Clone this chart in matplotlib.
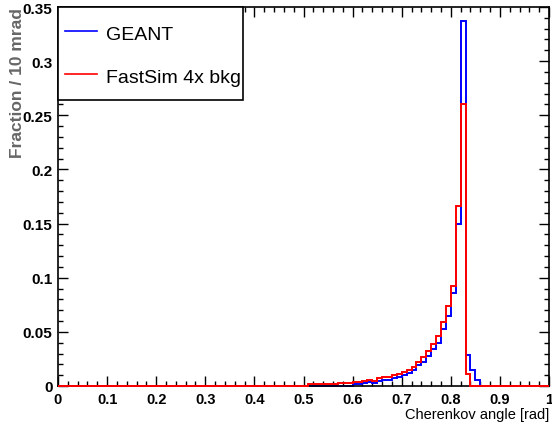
import numpy as np
import matplotlib
matplotlib.use("Agg")
import matplotlib.pyplot as plt
from matplotlib.lines import Line2D
from matplotlib.patches import Rectangle
from matplotlib.ticker import MultipleLocator, FixedLocator, FixedFormatter

# Histogram binning: 10 mrad bins; only the populated range is listed
bin_low = 0.50
bin_width = 0.01

geant = [0.000, 0.000, 0.000, 0.000, 0.000, 0.000, 0.000, 0.000, 0.000, 0.000,
         0.002, 0.002, 0.003, 0.004, 0.003, 0.005, 0.006, 0.006, 0.007, 0.008,
         0.010, 0.012, 0.015, 0.019, 0.022, 0.028, 0.034, 0.040, 0.053, 0.065,
         0.086, 0.150, 0.337, 0.029, 0.015, 0.006, 0.000]

fastsim = [0.000, 0.002, 0.002, 0.002, 0.002, 0.002, 0.002, 0.0025, 0.003, 0.003,
           0.004, 0.004, 0.005, 0.006, 0.005, 0.007, 0.008, 0.008, 0.010, 0.011,
           0.013, 0.015, 0.018, 0.022, 0.027, 0.032, 0.039, 0.046, 0.059, 0.074,
           0.092, 0.166, 0.260, 0.011, 0.000, 0.000, 0.000]

series_labels = ["GEANT", "FastSim 4x bkg"]
series_colors = ["#0000ff", "#ff0000"]

x_ticks = [0.0, 0.1, 0.2, 0.3, 0.4, 0.5, 0.6, 0.7, 0.8, 0.9, 1.0]
x_tick_labels = ["0", "0.1", "0.2", "0.3", "0.4", "0.5", "0.6", "0.7", "0.8", "0.9", "1"]
y_ticks = [0.0, 0.05, 0.10, 0.15, 0.20, 0.25, 0.30, 0.35]
y_tick_labels = ["0", "0.05", "0.1", "0.15", "0.2", "0.25", "0.3", "0.35"]

plt.rcParams["font.family"] = ["Liberation Sans", "DejaVu Sans"]

fig = plt.figure(figsize=(5.52, 4.27), dpi=100)
ax = fig.add_axes([58 / 552, 40 / 427, 491 / 552, 379 / 427])

n = len(geant)
inner_edges = bin_low + bin_width * np.arange(n + 1)
edges = np.concatenate([[0.0], inner_edges, [1.0]])

for vals, col, z in zip([geant, fastsim], series_colors, [2, 3]):
    v = np.concatenate([[0.0], vals, [0.0]])
    ax.stairs(v, edges, color=col, linewidth=1.4, zorder=z,
              baseline=None, clip_on=False)

ax.set_xlim(0, 1)
ax.set_ylim(0, 0.35)

ax.xaxis.set_major_locator(FixedLocator(x_ticks))
ax.xaxis.set_major_formatter(FixedFormatter(x_tick_labels))
ax.xaxis.set_minor_locator(MultipleLocator(0.02))
ax.yaxis.set_major_locator(FixedLocator(y_ticks))
ax.yaxis.set_major_formatter(FixedFormatter(y_tick_labels))
ax.yaxis.set_minor_locator(MultipleLocator(0.01))

ax.tick_params(which="both", direction="in", top=True, right=True, width=1.0,
               color="black")
ax.tick_params(which="major", length=7, pad=4)
ax.tick_params(which="minor", length=3.5)
for lbl in ax.get_xticklabels():
    lbl.set_fontweight("bold")
    lbl.set_fontsize(10.5)
for lbl in ax.get_yticklabels():
    lbl.set_fontweight("bold")
    lbl.set_fontsize(11)

for sp in ax.spines.values():
    sp.set_linewidth(1.2)

ax.set_xlabel("Cherenkov angle [rad]", fontsize=10.5, loc="right")
ax.xaxis.set_label_coords(1.0, -0.056)
ax.set_ylabel("Fraction / 10 mrad", fontsize=12.5, fontweight="bold",
              color="#666666", loc="top")
ax.yaxis.set_label_coords(-0.068, 1.0)

# Legend box in the upper-left corner
ax.add_patch(Rectangle((0, 0.7546), 0.377, 0.2454, transform=ax.transAxes,
                       facecolor="white", edgecolor="black", linewidth=1.2,
                       zorder=5, clip_on=False))
line_y = [0.9367, 0.8232]
text_y = [0.9156, 0.8020]
for lab, col, ly, ty in zip(series_labels, series_colors, line_y, text_y):
    ax.add_line(Line2D([0.0143, 0.0794], [ly, ly], transform=ax.transAxes,
                       color=col, linewidth=1.2, zorder=6))
    ax.text(0.0978, ty, lab, transform=ax.transAxes, fontsize=14,
            va="baseline", ha="left", zorder=6)

fig.savefig("out.png", dpi=100)
